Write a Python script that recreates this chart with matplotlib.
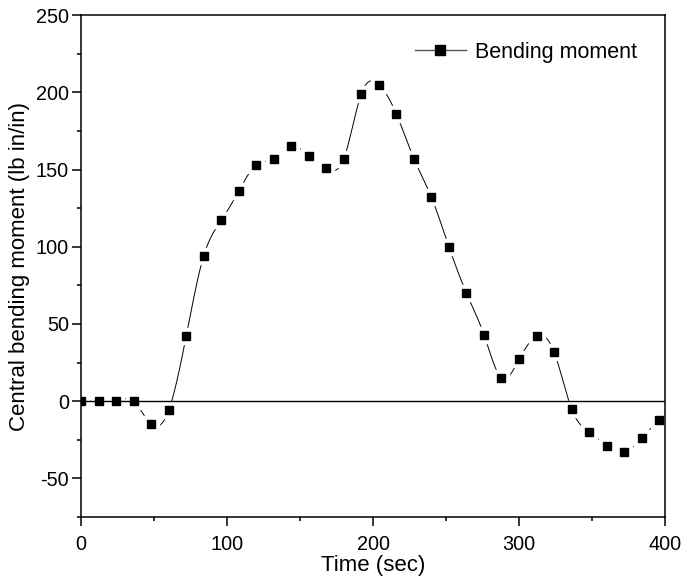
import numpy as np
import matplotlib
matplotlib.use("Agg")
import matplotlib.pyplot as plt
from matplotlib.lines import Line2D

plt.rcParams['font.family'] = ['Liberation Sans', 'DejaVu Sans']
plt.rcParams['axes.unicode_minus'] = False

# data
time_s = [0, 12, 24, 36, 48, 60, 72, 84, 96, 108, 120, 132, 144, 156, 168, 180,
          192, 204, 216, 228, 240, 252, 264, 276, 288, 300, 312, 324, 336, 348,
          360, 372, 384, 396]
moment = [0, 0, 0, 0, -15, -6, 42, 94, 117, 136, 153, 157, 165, 159, 151, 157,
          199, 205, 186, 157, 132, 100, 70, 43, 15, 27, 42, 32, -5, -20,
          -29, -33, -24, -12]


def natural_spline(x, y, n=1500):
    # plain natural cubic spline, only used to draw the smooth connecting line
    x = np.asarray(x, float)
    y = np.asarray(y, float)
    k = len(x)
    h = np.diff(x)
    A = np.zeros((k, k))
    b = np.zeros(k)
    A[0, 0] = A[-1, -1] = 1
    for i in range(1, k - 1):
        A[i, i - 1] = h[i - 1]
        A[i, i] = 2 * (h[i - 1] + h[i])
        A[i, i + 1] = h[i]
        b[i] = 3 * ((y[i + 1] - y[i]) / h[i] - (y[i] - y[i - 1]) / h[i - 1])
    c = np.linalg.solve(A, b)
    xs = np.linspace(x[0], x[-1], n)
    idx = np.clip(np.searchsorted(x, xs) - 1, 0, k - 2)
    dx = xs - x[idx]
    bb = (y[idx + 1] - y[idx]) / h[idx] - h[idx] * (2 * c[idx] + c[idx + 1]) / 3
    dd = (c[idx + 1] - c[idx]) / (3 * h[idx])
    ys = y[idx] + bb * dx + c[idx] * dx ** 2 + dd * dx ** 3
    return xs, ys


fig = plt.figure(figsize=(6.81, 5.79), dpi=100)
ax = fig.add_axes([0.119, 0.107, 0.8575, 0.867])

xs, ys = natural_spline(time_s, moment)
ax.plot(xs, ys, color='black', lw=0.7, zorder=2)
ax.plot(time_s, moment, ls='none', marker='s', ms=12, mfc='white', mec='white', zorder=3)
ax.axhline(0, color='black', lw=1.0, zorder=3.5)
ax.plot(time_s, moment, ls='none', marker='s', ms=6.3, mfc='black', mec='black', zorder=4)

ax.set_xlim(0, 400)
ax.set_ylim(-75, 250)
ax.set_xticks([0, 100, 200, 300, 400])
ax.set_xticks([50, 150, 250, 350], minor=True)
ax.set_yticks([-50, 0, 50, 100, 150, 200, 250])
ax.set_yticks([-75, -25, 25, 75, 125, 175, 225], minor=True)
ax.tick_params(which='both', direction='out', width=1.1, labelsize=14.3,
               top=False, right=False)
ax.tick_params(which='major', length=6.8)
ax.tick_params(which='minor', length=3.1)
ax.tick_params(axis='y', pad=2)
ax.tick_params(axis='x', pad=6)
for s in ax.spines.values():
    s.set_linewidth(1.1)
    s.set_zorder(5)

ax.set_xlabel('Time (sec)', fontsize=16, labelpad=1)
ax.set_ylabel('Central bending moment (lb in/in)', fontsize=16, labelpad=4)

handle = Line2D([], [], color='#555555', lw=1.0, marker='s', ms=7,
                mfc='black', mec='black')
ax.legend([handle], ['Bending moment'], loc='upper right', frameon=False,
          fontsize=15.5, handlelength=2.4, handletextpad=0.4,
          bbox_to_anchor=(0.985, 0.985))

fig.savefig('out.png', dpi=100)
